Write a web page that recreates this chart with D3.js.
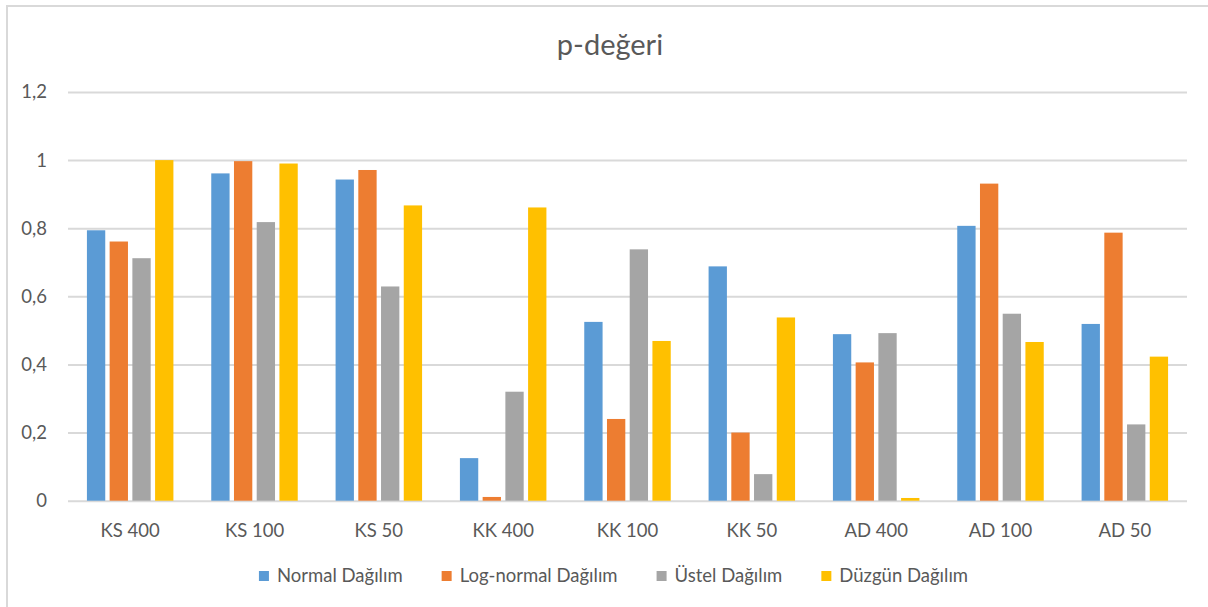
<!DOCTYPE html>
<html>
<head>
<meta charset="utf-8">
<script src="https://cdn.jsdelivr.net/npm/d3@7"></script>
<style>
  html, body { margin: 0; padding: 0; background: #fff; }
  svg { display: block; font-family: Lato, "Open Sans", sans-serif; }
</style>
</head>
<body>
<svg id="chart" width="1208" height="607"></svg>
<script>
// Test categories (method + sample size)
const categories = ["KS 400", "KS 100", "KS 50", "KK 400", "KK 100", "KK 50", "AD 400", "AD 100", "AD 50"];

// Distribution series names
const seriesNames = ["Normal Dağılım", "Log-normal Dağılım", "Üstel Dağılım", "Düzgün Dağılım"];

// p-values per series, in category order
const normalValues    = [0.794, 0.961, 0.943, 0.125, 0.525, 0.688, 0.489, 0.807, 0.519];
const logNormalValues = [0.761, 0.997, 0.971, 0.011, 0.240, 0.200, 0.406, 0.931, 0.787];
const ustelValues     = [0.712, 0.818, 0.629, 0.320, 0.738, 0.078, 0.492, 0.549, 0.224];
const duzgunValues    = [1.000, 0.990, 0.867, 0.861, 0.469, 0.538, 0.008, 0.466, 0.423];

// Y-axis tick values
const yTicks = [0, 0.2, 0.4, 0.6, 0.8, 1, 1.2];

const seriesValues = [normalValues, logNormalValues, ustelValues, duzgunValues];
const colors = ["#5B9BD5", "#ED7D31", "#A5A5A5", "#FFC000"];
const textColor = "#595959";
const gridColor = "#D9D9D9";

const svg = d3.select("#chart");

// chart frame
svg.append("rect")
  .attr("x", 7).attr("y", 6)
  .attr("width", 1300).attr("height", 700)
  .attr("fill", "#fff")
  .attr("stroke", gridColor).attr("stroke-width", 2);

const plot = { left: 68, right: 1187, top: 92, bottom: 500.7 };

const x0 = d3.scaleBand()
  .domain(categories)
  .range([plot.left, plot.right])
  .paddingInner(0.269)
  .paddingOuter(0.1345);

const x1 = d3.scaleBand()
  .domain(seriesNames)
  .range([0, x0.bandwidth()]);

const y = d3.scaleLinear()
  .domain([0, 1.2])
  .range([plot.bottom, plot.top]);

const fmt = d3.formatLocale({ decimal: ",", thousands: ".", grouping: [3], currency: ["", ""] }).format("~g");

// gridlines + tick labels via d3 axis
const yAxis = d3.axisLeft(y)
  .tickValues(yTicks)
  .tickFormat(fmt)
  .tickSize(-(plot.right - plot.left))
  .tickPadding(21);

const gy = svg.append("g")
  .attr("transform", `translate(${plot.left},0)`)
  .call(yAxis);
gy.select(".domain").remove();
gy.selectAll(".tick line").attr("stroke", gridColor).attr("stroke-width", 2);
gy.selectAll(".tick text")
  .attr("fill", textColor)
  .attr("font-size", "18.5px")
  .attr("font-family", "Lato, 'Open Sans', sans-serif");

// bars
const inset = 2.2;
const groups = svg.append("g")
  .selectAll("g")
  .data(seriesNames)
  .join("g")
  .attr("fill", (d, i) => colors[i]);

groups.selectAll("rect")
  .data((s, si) => categories.map((c, ci) => ({ cat: c, series: s, value: seriesValues[si][ci] })))
  .join("rect")
  .attr("x", d => x0(d.cat) + x1(d.series) + inset)
  .attr("width", x1.bandwidth() - 2 * inset)
  .attr("y", d => y(d.value))
  .attr("height", d => y(0) - y(d.value));

// category axis labels
const xAxis = d3.axisBottom(x0).tickSize(0).tickPadding(23);
const gx = svg.append("g")
  .attr("transform", `translate(0,${plot.bottom})`)
  .call(xAxis);
gx.select(".domain").remove();
gx.selectAll(".tick text")
  .attr("fill", textColor)
  .attr("font-size", "18.5px")
  .attr("font-family", "Lato, 'Open Sans', sans-serif");

// title
svg.append("text")
  .attr("x", 610).attr("y", 55)
  .attr("text-anchor", "middle")
  .attr("fill", textColor)
  .attr("font-size", "29px")
  .text("p-değeri");

// legend
const legend = svg.append("g");
const sq = 10, sqGap = 8, itemGap = 39, legendY = 576;
const items = legend.selectAll("g")
  .data(seriesNames)
  .join("g");
items.append("rect")
  .attr("width", sq).attr("height", sq)
  .attr("y", legendY - sq / 2)
  .attr("fill", (d, i) => colors[i]);
items.append("text")
  .attr("x", sq + sqGap)
  .attr("y", legendY)
  .attr("dy", "0.35em")
  .attr("fill", textColor)
  .attr("font-size", "18.5px")
  .text(d => d);

let offsets = [], cursor = 0;
items.each(function () {
  const w = sq + sqGap + this.querySelector("text").getComputedTextLength();
  offsets.push(cursor);
  cursor += w + itemGap;
});
const totalW = cursor - itemGap;
const startX = 613.5 - totalW / 2;
items.attr("transform", (d, i) => `translate(${startX + offsets[i]},0)`);
</script>
</body>
</html>
